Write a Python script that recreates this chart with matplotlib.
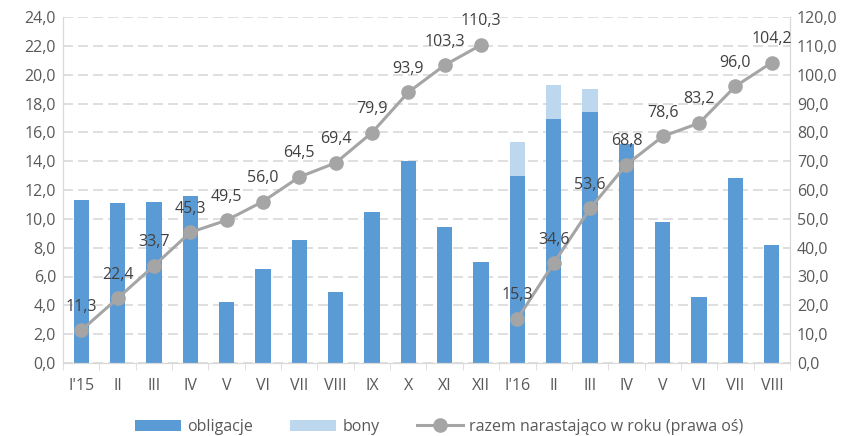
import numpy as np
import matplotlib
matplotlib.use("Agg")
import matplotlib.pyplot as plt


CATEGORIES = ["I'15", "II", "III", "IV", "V", "VI", "VII", "VIII", "IX", "X", "XI", "XII",
              "I'16", "II", "III", "IV", "V", "VI", "VII", "VIII"]
OBLIGACJE = [11.3, 11.1, 11.2, 11.6, 4.2, 6.5, 8.5, 4.9, 10.5, 14.0, 9.4, 7.0,
             13.0, 16.9, 17.4, 15.2, 9.8, 4.6, 12.8, 8.2]
BONY = [0, 0, 0, 0, 0, 0, 0, 0, 0, 0, 0, 0,
        2.3, 2.4, 1.6, 0, 0, 0, 0, 0]
RAZEM_2015 = [11.3, 22.4, 33.7, 45.3, 49.5, 56.0, 64.5, 69.4, 79.9, 93.9, 103.3, 110.3]
RAZEM_2016 = [15.3, 34.6, 53.6, 68.8, 78.6, 83.2, 96.0, 104.2]

BLUE = "#5b9bd5"
LIGHT = "#bdd7ee"
GREY = "#a5a5a5"
TEXT = "#595959"
FS = 11.5

plt.rcParams["font.family"] = ["Open Sans", "DejaVu Sans"]

fig = plt.figure(figsize=(8.61, 4.36), dpi=100)
ax = fig.add_axes([63 / 861, 1 - 363 / 436, (790 - 63) / 861, (363 - 17) / 436])
ax2 = ax.twinx()

x = np.arange(len(CATEGORIES))
ax.bar(x, OBLIGACJE, width=0.42, color=BLUE, label="obligacje", zorder=2)
ax.bar(x, BONY, width=0.42, bottom=OBLIGACJE, color=LIGHT, label="bony", zorder=2)

ax.set_ylim(0, 24)
ax.set_yticks(np.arange(0, 24.1, 2))
ax.set_yticklabels([f"{v:.1f}".replace(".", ",") for v in np.arange(0, 24.1, 2)])
ax.set_xlim(-0.5, len(CATEGORIES) - 0.5)
ax.set_xticks(x)
ax.set_xticklabels(CATEGORIES)
ax.set_xticks(np.arange(-0.5, len(CATEGORIES), 1), minor=True)
ax.tick_params(axis="x", which="major", length=0, pad=11, labelsize=FS, colors=TEXT)
ax.tick_params(axis="x", which="minor", length=5, color="#d9d9d9")
ax.tick_params(axis="y", length=0, pad=5, labelsize=FS, colors=TEXT)
ax.grid(axis="y", color="#d9d9d9", linestyle=(0, (6, 3)), linewidth=1.2, zorder=0)
ax.set_axisbelow(True)

x15 = x[:12]
x16 = x[12:]
line_kw = dict(color=GREY, linewidth=2.2, marker="o", markersize=9.5, zorder=3)
ax2.plot(x15, RAZEM_2015, label="razem narastająco w roku (prawa oś)", **line_kw)
ax2.plot(x16, RAZEM_2016, **line_kw)
for xs, ys in [(x15, RAZEM_2015), (x16, RAZEM_2016)]:
    for xi, yi in zip(xs, ys):
        ax2.annotate(f"{yi:.1f}".replace(".", ","), (xi, yi), xytext=(0, 17),
                     textcoords="offset points", ha="center", va="center",
                     fontsize=FS, color="#404040")

ax2.set_ylim(0, 120)
ax2.set_yticks(np.arange(0, 120.1, 10))
ax2.set_yticklabels([f"{v:.1f}".replace(".", ",") for v in np.arange(0, 120.1, 10)])
ax2.tick_params(axis="y", length=0, pad=5, labelsize=FS, colors=TEXT)

for a in (ax, ax2):
    a.spines["top"].set_visible(False)
    for s in ("left", "right", "bottom"):
        a.spines[s].set_color("#d9d9d9")

h1, l1 = ax.get_legend_handles_labels()
h2, l2 = ax2.get_legend_handles_labels()
fig.legend(h1 + h2, l1 + l2, loc="center", bbox_to_anchor=(0.51, 1 - 427 / 436),
           ncol=3, frameon=False, fontsize=FS, labelcolor=TEXT,
           handlelength=2.9, handletextpad=0.4, columnspacing=2.3, handleheight=0.7)

fig.savefig("out.png", dpi=100)
